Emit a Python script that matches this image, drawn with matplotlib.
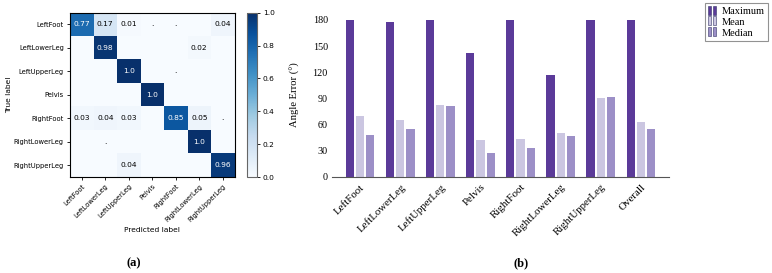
import numpy as np
import matplotlib
matplotlib.use("Agg")
import matplotlib.pyplot as plt
from matplotlib.patches import Rectangle
from matplotlib.legend_handler import HandlerBase

# ---------------- data ----------------
classes = ["LeftFoot", "LeftLowerLeg", "LeftUpperLeg", "Pelvis",
           "RightFoot", "RightLowerLeg", "RightUpperLeg"]
cm_values = [
    [0.77, 0.17, 0.01, 0.003, 0.003, 0.0, 0.04],
    [0.0, 0.98, 0.0, 0.0, 0.0, 0.02, 0.0],
    [0.0, 0.0, 1.0, 0.0, 0.003, 0.0, 0.0],
    [0.0, 0.0, 0.0, 1.0, 0.0, 0.0, 0.0],
    [0.03, 0.04, 0.03, 0.0, 0.85, 0.05, 0.003],
    [0.0, 0.003, 0.0, 0.0, 0.0, 1.0, 0.0],
    [0.0, 0.0, 0.04, 0.0, 0.0, 0.0, 0.96],
]
bar_categories = ["LeftFoot", "LeftLowerLeg", "LeftUpperLeg", "Pelvis",
                  "RightFoot", "RightLowerLeg", "RightUpperLeg", "Overall"]
maximum = [180, 177, 180, 142, 180, 117, 180, 180]
mean = [70, 65, 82, 42, 43, 50, 90, 63]
median = [48, 55, 81, 27, 33, 47, 92, 55]
series_names = ["Maximum", "Mean", "Median"]
yticks_b = [0, 30, 60, 90, 120, 150, 180]

# ---------------- figure ----------------
W, H = 772, 273
fig = plt.figure(figsize=(W / 100, H / 100), dpi=100)

def ax_px(x0, y0, x1, y1):
    return fig.add_axes([x0 / W, 1 - y1 / H, (x1 - x0) / W, (y1 - y0) / H])

# ---- (a) confusion matrix ----
cm = np.array(cm_values)
ax1 = ax_px(70, 12.7, 234.5, 177)
im = ax1.imshow(cm, cmap="Blues", vmin=0, vmax=1, aspect="auto",
                interpolation="nearest")
n = len(classes)
for i in range(n):
    for j in range(n):
        v = cm[i, j]
        if v == 0:
            continue
        if v < 0.005:
            txt = "."
        elif v >= 0.995:
            txt = "1.0"
        else:
            txt = f"{v:.2f}"
        ax1.text(j, i, txt, ha="center", va="center", fontsize=5.4,
                 color="white" if v > 0.5 else "black", family="DejaVu Sans")
ax1.set_xticks(range(n))
ax1.set_yticks(range(n))
ax1.set_xticklabels(classes, rotation=45, ha="right", rotation_mode="anchor",
                    fontsize=4.9)
ax1.set_yticklabels(classes, fontsize=4.9)
ax1.tick_params(length=2.5, width=0.6, pad=2)
ax1.set_xlabel("Predicted label", fontsize=5.4, labelpad=3)
ax1.set_ylabel("True label", fontsize=5.4, labelpad=1)
for s in ax1.spines.values():
    s.set_linewidth(0.8)

cax = ax_px(247, 12.7, 256.5, 177)
cb = fig.colorbar(im, cax=cax, ticks=[0, 0.2, 0.4, 0.6, 0.8, 1.0])
cb.ax.tick_params(labelsize=5.4, length=2.5, width=0.6, pad=2)
cb.ax.set_yticklabels(["0.0", "0.2", "0.4", "0.6", "0.8", "1.0"])
cb.outline.set_edgecolor("#666666")
cb.outline.set_linewidth(0.8)

fig.text(134 / W, 1 - 263 / H, "(a)", ha="center", va="center",
         fontsize=9, fontweight="bold", family="Liberation Serif")

# ---- (b) bar chart ----
ax2 = ax_px(332, 12, 669, 177)
colors = ["#5b3a99", "#cbc6e1", "#9c8fc7"]
x = np.arange(len(bar_categories))
w = 0.207
off = 0.255
for k, (vals, c) in enumerate(zip([maximum, mean, median], colors)):
    ax2.bar(x + (k - 1) * off, vals, width=w, color=c, label=series_names[k],
            linewidth=0)
ax2.set_xlim(-0.7, 7.7)
ax2.set_ylim(0, 189)
ax2.set_yticks(yticks_b)
ax2.set_xticks(x)
serif = "Liberation Serif"
ax2.set_xticklabels(bar_categories, rotation=45, ha="right",
                    rotation_mode="anchor", fontsize=7.8, family=serif)
ax2.set_yticklabels([str(t) for t in yticks_b], fontsize=7.3, family=serif)
ax2.tick_params(axis="both", length=0, pad=3)
ax2.tick_params(axis="x", pad=4)
for s in ["top", "right", "left"]:
    ax2.spines[s].set_visible(False)
ax2.spines["bottom"].set_color("#555555")
ax2.spines["bottom"].set_linewidth(0.8)
ax2.set_ylabel("Angle Error (°)", fontsize=7.6, family=serif, labelpad=9)


class TwoBarHandler(HandlerBase):
    def create_artists(self, legend, orig_handle, xdescent, ydescent,
                       width, height, fontsize, trans):
        c = orig_handle.get_facecolor()
        bw = width * 0.3
        r1 = Rectangle((-xdescent, -ydescent), bw, height * 1.1,
                       facecolor=c, edgecolor="#333366", linewidth=0.4,
                       transform=trans)
        r2 = Rectangle((-xdescent + bw * 1.5, -ydescent), bw, height * 1.1,
                       facecolor=c, edgecolor="#333366", linewidth=0.4,
                       transform=trans)
        return [r1, r2]


handles = [Rectangle((0, 0), 1, 1, facecolor=c) for c in colors]
leg = fig.legend(handles, series_names, loc="upper right",
                 bbox_to_anchor=(768 / W, 1 - 3.5 / H),
                 handler_map={Rectangle: TwoBarHandler()},
                 prop={"family": serif, "size": 7.5}, handlelength=1.0,
                 handleheight=0.8, handletextpad=0.3, borderpad=0.3,
                 labelspacing=0.1, frameon=True, fancybox=False,
                 borderaxespad=0)
leg.get_frame().set_edgecolor("#777777")
leg.get_frame().set_linewidth(0.8)

fig.text(521 / W, 1 - 263 / H, "(b)", ha="center", va="center",
         fontsize=9, fontweight="bold", family=serif)

fig.savefig("out.png", dpi=100)
